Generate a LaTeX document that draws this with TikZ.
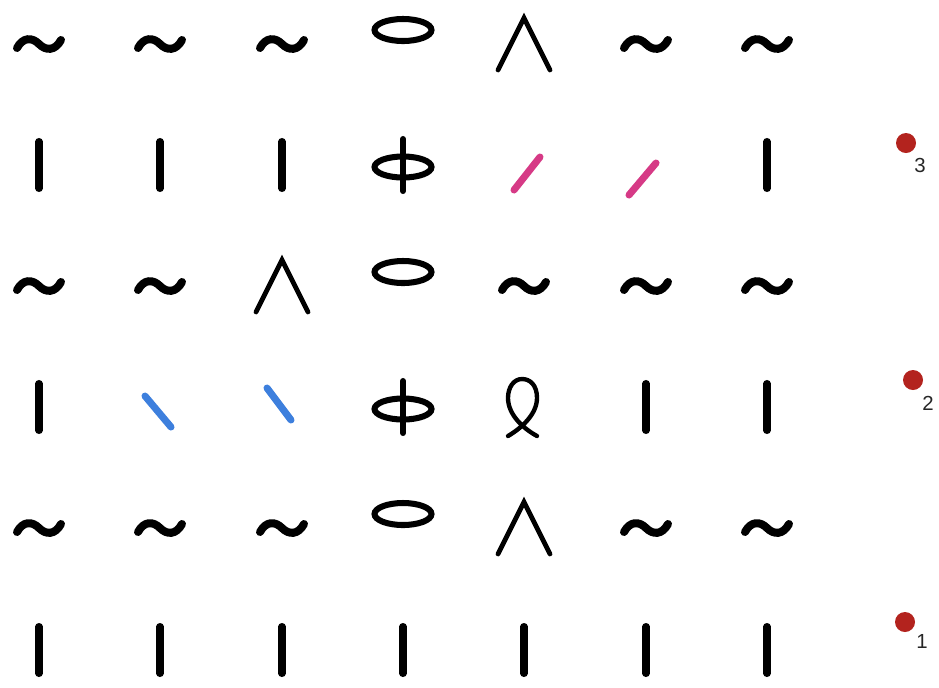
\documentclass[tikz,border=0pt]{standalone}
\usepackage{fontspec}
\newfontfamily\lblfont{Liberation Sans}
\definecolor{rowred}{HTML}{B3231E}
\definecolor{decpink}{HTML}{D63A86}
\definecolor{decblue}{HTML}{3D7FDD}
\tikzset{
  sym/.style={draw=black,line width=5pt,line cap=round},
  purlst/.style={sym,line width=5.7pt},
  ovalst/.style={sym,line width=4.3pt},
  wedgest/.style={sym,line width=3.4pt,line join=miter},
  loopst/.style={sym,line width=3.1pt},
  rskew/.style={sym,draw=decpink},
  lskew/.style={sym,draw=decblue},
  rowdot/.style={circle,fill=rowred,minimum size=0.5cm,inner sep=0pt},
  rowno/.style={font=\lblfont\fontsize{14.5}{16}\selectfont,inner sep=0pt,text=black!85},
  knit/.pic={\draw[sym] (0,-23.5) -- (0,23.5);},
  purl/.pic={\draw[purlst] (-22,4) .. controls (-16,-7) and (-7,-7) .. (0,0) .. controls (7,7) and (16,7) .. (22,-4);},
  yo/.pic={\draw[ovalst] (0,-14) ellipse [x radius=28.5,y radius=11];},
  tbl/.pic={\draw[ovalst] (0,2) ellipse [x radius=28.5,y radius=10.5]; \draw[ovalst] (0,-26) -- (0,26);},
  dec/.pic={\draw[wedgest] (-26,26) -- (0,-26) -- (26,26);},
  twist/.pic={\draw[loopst] (-16,29) .. controls (-4,22) and (13,8) .. (13,-9) .. controls (13,-22) and (6,-28) .. (-2,-28) .. controls (-10,-28) and (-16,-20) .. (-16,-9) .. controls (-16,8) and (0,22) .. (13,29);},
}
\begin{document}
\begin{tikzpicture}[x=0.025cm,y=-0.025cm]
  \useasboundingbox (0,0) rectangle (939,687);
  \pic at (39,44) {purl}; \pic at (160,44) {purl}; \pic at (282,44) {purl}; \pic at (403,44) {yo};
  \pic at (524,44) {dec}; \pic at (646,44) {purl}; \pic at (767,44) {purl};
  \pic at (39,165) {knit}; \pic at (160,165) {knit}; \pic at (282,165) {knit}; \pic at (403,165) {tbl};
  \draw[rskew] (514,190) -- (540,157);
  \draw[rskew] (629,195) -- (656,163);
  \pic at (767,165) {knit};
  \pic at (39,286) {purl}; \pic at (160,286) {purl}; \pic at (282,286) {dec}; \pic at (403,286) {yo};
  \pic at (524,286) {purl}; \pic at (646,286) {purl}; \pic at (767,286) {purl};
  \pic at (39,407) {knit};
  \draw[lskew] (145,396) -- (171,427);
  \draw[lskew] (267,388) -- (291,420);
  \pic at (403,407) {tbl}; \pic at (524,407) {twist}; \pic at (646,407) {knit}; \pic at (767,407) {knit};
  \pic at (39,528) {purl}; \pic at (160,528) {purl}; \pic at (282,528) {purl}; \pic at (403,528) {yo};
  \pic at (524,528) {dec}; \pic at (646,528) {purl}; \pic at (767,528) {purl};
  \pic at (39,650) {knit}; \pic at (160,650) {knit}; \pic at (282,650) {knit}; \pic at (403,650) {knit};
  \pic at (524,650) {knit}; \pic at (646,650) {knit}; \pic at (767,650) {knit};
  \node[rowdot] (d3) at (906,143) {};
  \node[rowno] (n3) at (920,165.5) {3};
  \node[rowdot] (d2) at (913,380) {};
  \node[rowno] (n2) at (928,403) {2};
  \node[rowdot] (d1) at (905,622) {};
  \node[rowno] (n1) at (922,641.5) {1};
\end{tikzpicture}
\end{document}
